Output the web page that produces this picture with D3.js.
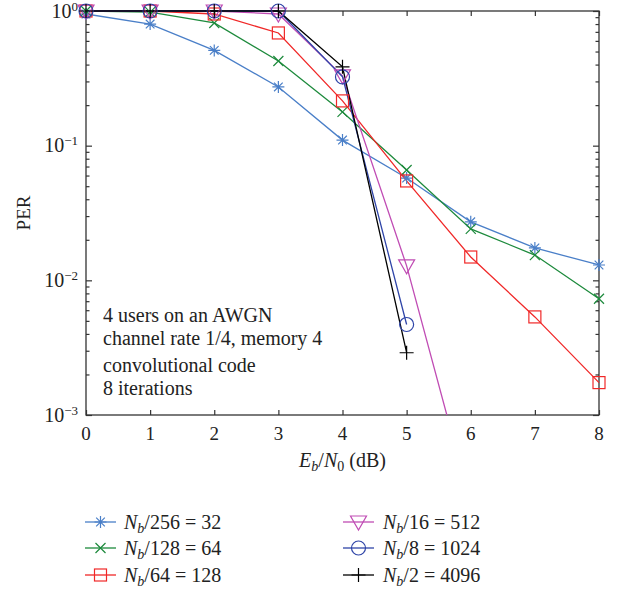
<!DOCTYPE html>
<html>
<head>
<meta charset="utf-8">
<script src="https://cdn.jsdelivr.net/npm/d3@7"></script>
<style>
  html, body { margin: 0; padding: 0; background: #fff; }
  svg text { font-family: "Liberation Serif", "DejaVu Serif", serif; fill: #222; }
</style>
</head>
<body>
<svg id="chart" width="620" height="592"></svg>
<script>
// ---- Data ----
const ebn0 = [0, 1, 2, 3, 4, 5, 6, 7, 8];
const per32   = [0.95, 0.80, 0.51, 0.273, 0.110, 0.0575, 0.0272, 0.0174, 0.0130];
const per64   = [1.0, 0.98, 0.815, 0.425, 0.178, 0.066, 0.0241, 0.0154, 0.0073];
const per128  = [1.0, 1.0, 0.95, 0.687, 0.215, 0.0547, 0.0149, 0.00535, 0.00174];
const per512  = [1.0, 1.0, 1.0, 0.95, 0.33, 0.0128, 0.00022];
const per1024 = [1.0, 1.0, 1.0, 1.0, 0.324, 0.0047];
const per4096 = [1.0, 1.0, 1.0, 1.0, 0.385, 0.0029];
const seriesNames = [
  ["256", "32"], ["128", "64"], ["64", "128"],
  ["16", "512"], ["8", "1024"], ["2", "4096"]
];
const xTicks = [0, 1, 2, 3, 4, 5, 6, 7, 8];
const yTickExps = [0, -1, -2, -3];
const noteLines = ["4 users on an AWGN", "channel rate 1/4, memory 4", "convolutional code", "8 iterations"];

const series = [
  { vals: per32,   color: "#4a7fc8", marker: "star" },
  { vals: per64,   color: "#1d8a3c", marker: "x" },
  { vals: per128,  color: "#f02828", marker: "square" },
  { vals: per512,  color: "#c04cb4", marker: "tri" },
  { vals: per1024, color: "#2f45a8", marker: "circle" },
  { vals: per4096, color: "#000000", marker: "plus" }
];

// ---- Layout ----
const svg = d3.select("#chart");
const L = 86, R = 599, T = 11, B = 415;
const x = d3.scaleLinear().domain([0, 8]).range([L, R]);
const y = d3.scaleLog().domain([1e-3, 1]).range([B, T]);

svg.append("defs").append("clipPath").attr("id", "clip")
  .append("rect").attr("x", L).attr("y", T - 3).attr("width", R - L + 3).attr("height", B - T + 3);

// Frame
const frameColor = "#333";
svg.append("rect").attr("x", L).attr("y", T).attr("width", R - L).attr("height", B - T)
  .attr("fill", "none").attr("stroke", frameColor).attr("stroke-width", 1.3);

// Axes (ticks inward)
const minorVals = [];
for (let e = -3; e < 0; e++) for (let m = 2; m <= 9; m++) minorVals.push(m * Math.pow(10, e));
const majorVals = yTickExps.map(e => Math.pow(10, e));

const gL = svg.append("g").attr("transform", `translate(${L},0)`)
  .call(d3.axisRight(y).tickValues(majorVals).tickSize(6).tickFormat(""));
const gLm = svg.append("g").attr("transform", `translate(${L},0)`)
  .call(d3.axisRight(y).tickValues(minorVals).tickSize(3.5).tickFormat(""));
const gR = svg.append("g").attr("transform", `translate(${R},0)`)
  .call(d3.axisLeft(y).tickValues(majorVals).tickSize(6).tickFormat(""));
const gRm = svg.append("g").attr("transform", `translate(${R},0)`)
  .call(d3.axisLeft(y).tickValues(minorVals).tickSize(3.5).tickFormat(""));
const gB = svg.append("g").attr("transform", `translate(0,${B})`)
  .call(d3.axisTop(x).tickValues(xTicks).tickSize(5).tickFormat(""));
const gT = svg.append("g").attr("transform", `translate(0,${T})`)
  .call(d3.axisBottom(x).tickValues(xTicks).tickSize(5).tickFormat(""));
[gL, gLm, gR, gRm, gB, gT].forEach(g => {
  g.select(".domain").remove();
  g.selectAll(".tick line").attr("stroke", frameColor).attr("stroke-width", 1.2);
});

// X tick labels
svg.append("g").selectAll("text").data(xTicks).join("text")
  .attr("x", d => x(d)).attr("y", B + 25)
  .attr("text-anchor", "middle").attr("font-size", 19).text(d => d);

// Y tick labels 10^e
const yl = svg.append("g").selectAll("text").data(yTickExps).join("text")
  .attr("x", L - 8).attr("y", d => y(Math.pow(10, d)) + 6.5)
  .attr("text-anchor", "end").attr("font-size", 20);
yl.append("tspan").text("10");
yl.append("tspan").attr("dy", -7).attr("font-size", 13).text(d => d === 0 ? "0" : "\u2212" + (-d));

// Axis titles
svg.append("text").attr("transform", `translate(30,${(T + B) / 2}) rotate(-90)`)
  .attr("text-anchor", "middle").attr("font-size", 19).text("PER");

const xt = svg.append("text").attr("x", (L + R) / 2).attr("y", 467)
  .attr("text-anchor", "middle").attr("font-size", 20);
xt.append("tspan").attr("font-style", "italic").text("E");
xt.append("tspan").attr("font-style", "italic").attr("font-size", 14).attr("dy", 4).text("b");
xt.append("tspan").attr("dy", -4).text("/");
xt.append("tspan").attr("font-style", "italic").text("N");
xt.append("tspan").attr("font-size", 14).attr("dy", 4).text("0");
xt.append("tspan").attr("dy", -4).text(" (dB)");

// Annotation
svg.append("g").selectAll("text").data(noteLines).join("text")
  .attr("x", 103).attr("y", (d, i) => [322, 345, 372, 395][i])
  .attr("font-size", 20).text(d => d);

// Markers
function drawMarker(g, type, color, cx, cy) {
  const s = g.append("g").attr("transform", `translate(${cx},${cy})`)
    .attr("fill", "none").attr("stroke", color).attr("stroke-width", 1.2);
  if (type === "star") {
    const r = 6;
    s.append("path").attr("d", `M${-r},0H${r}M0,${-r}V${r}M${-r*0.72},${-r*0.72}L${r*0.72},${r*0.72}M${-r*0.72},${r*0.72}L${r*0.72},${-r*0.72}`);
  } else if (type === "x") {
    const r = 5;
    s.append("path").attr("d", `M${-r},${-r}L${r},${r}M${-r},${r}L${r},${-r}`);
  } else if (type === "square") {
    s.append("rect").attr("x", -6).attr("y", -6).attr("width", 12).attr("height", 12);
  } else if (type === "tri") {
    s.append("path").attr("d", "M-8,-6L8,-6L0,8Z");
  } else if (type === "circle") {
    s.append("circle").attr("r", 7);
  } else if (type === "plus") {
    s.append("path").attr("d", "M-7,0H7M0,-7V7");
  }
}

const line = d3.line().x((d, i) => x(ebn0[i])).y(d => y(d));
const plot = svg.append("g");
series.forEach(s => {
  plot.append("path").datum(s.vals).attr("d", line)
    .attr("clip-path", "url(#clip)")
    .attr("fill", "none").attr("stroke", s.color).attr("stroke-width", 1.3);
});
series.forEach(s => {
  s.vals.forEach((v, i) => {
    if (v >= 1e-3) drawMarker(plot, s.marker, s.color, x(ebn0[i]), y(v));
  });
});

// Legend
const legRows = [522, 548, 575];
const legCols = [[85, 116, 124], [343, 374, 383]];
series.forEach((s, i) => {
  const col = legCols[Math.floor(i / 3)];
  const ry = legRows[i % 3];
  svg.append("line").attr("x1", col[0]).attr("x2", col[1]).attr("y1", ry).attr("y2", ry)
    .attr("stroke", s.color).attr("stroke-width", 1.3);
  drawMarker(svg, s.marker, s.color, (col[0] + col[1]) / 2, ry);
  const t = svg.append("text").attr("x", col[2]).attr("y", ry + 6.5).attr("font-size", 20);
  t.append("tspan").attr("font-style", "italic").text("N");
  t.append("tspan").attr("font-style", "italic").attr("font-size", 14).attr("dy", 4).text("b");
  t.append("tspan").attr("dy", -4).text("/" + seriesNames[i][0] + " = " + seriesNames[i][1]);
});
</script>
</body>
</html>
